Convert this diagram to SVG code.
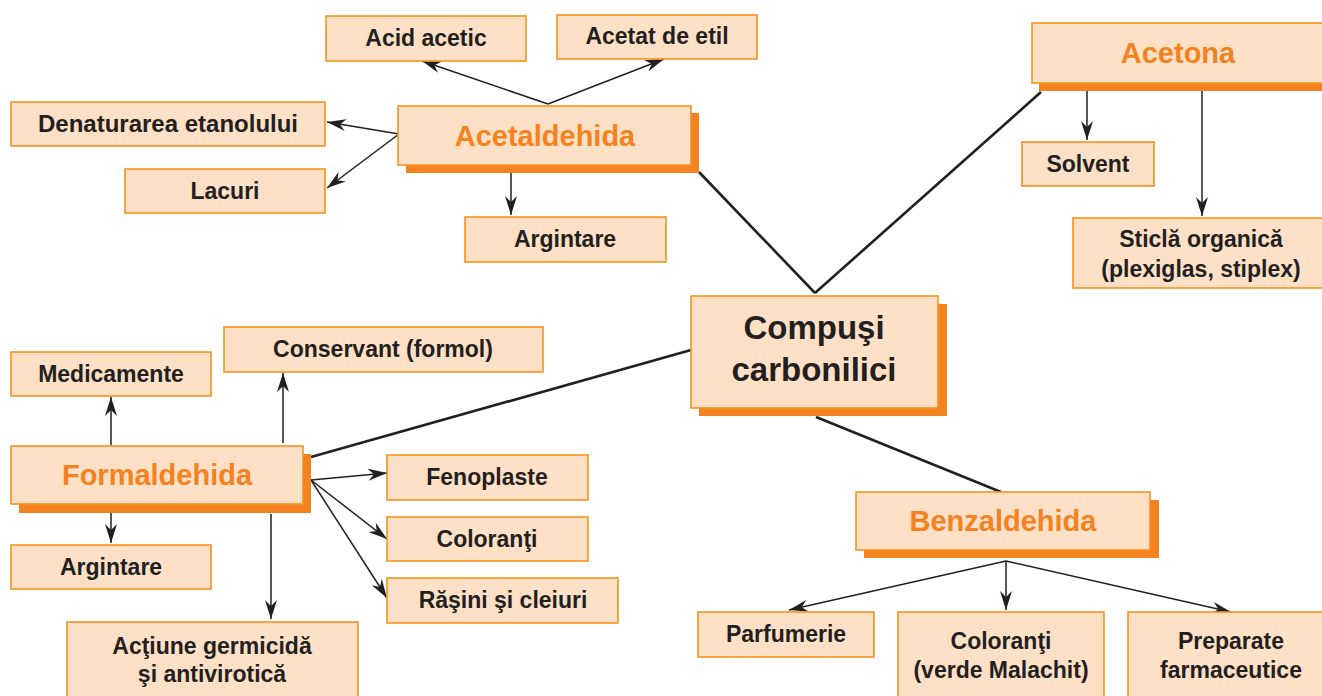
<svg xmlns="http://www.w3.org/2000/svg" width="1322" height="696" viewBox="0 0 1322 696">
<defs>
<style>
.box{fill:#FDE0C6;stroke:#F7941D;stroke-width:1.6}
.sh{fill:#F58220}
.t{font-family:"Liberation Sans",Arial,sans-serif;font-weight:bold;font-size:23px;fill:#231F20;text-anchor:middle}
.h{font-family:"Liberation Sans",Arial,sans-serif;font-weight:bold;font-size:29px;fill:#F58220;text-anchor:middle}
.c{font-family:"Liberation Sans",Arial,sans-serif;font-weight:bold;font-size:33px;fill:#231F20;text-anchor:middle}
.a{stroke:#231F20;stroke-width:1.5;fill:none;marker-end:url(#ah)}
.l{stroke:#231F20;stroke-width:2.6;fill:none}
</style>
<marker id="ah" viewBox="0 0 19 12" markerUnits="userSpaceOnUse" markerWidth="19" markerHeight="12" refX="19" refY="6" orient="auto">
<path d="M0,0 L19,6 L0,12 L6,6 z" fill="#231F20"/>
</marker>
</defs>
<rect width="1322" height="696" fill="#ffffff"/>

<g id="connectors">
<line class="l" x1="699" y1="172" x2="815" y2="293"/>
<line class="l" x1="1041" y1="92" x2="815" y2="293"/>
<line class="l" x1="691" y1="350" x2="311" y2="457"/>
<line class="l" x1="816" y1="417" x2="1001" y2="492"/>
<line class="a" x1="548" y1="104" x2="422" y2="61"/>
<line class="a" x1="548" y1="104" x2="664" y2="59"/>
<line class="a" x1="399" y1="134" x2="327" y2="122"/>
<line class="a" x1="399" y1="134" x2="327" y2="188"/>
<line class="a" x1="511" y1="173" x2="511" y2="215"/>
<line class="a" x1="1087" y1="91" x2="1087" y2="140"/>
<line class="a" x1="1202" y1="91" x2="1202" y2="216"/>
<line class="a" x1="111" y1="445" x2="111" y2="397"/>
<line class="a" x1="283" y1="443" x2="283" y2="373"/>
<line class="a" x1="111" y1="513" x2="111" y2="543"/>
<line class="a" x1="271" y1="514" x2="271" y2="619"/>
<line class="a" x1="311" y1="480" x2="387" y2="473"/>
<line class="a" x1="311" y1="480" x2="387" y2="539"/>
<line class="a" x1="311" y1="480" x2="387" y2="598"/>
<line class="a" x1="1006" y1="561" x2="789" y2="610"/>
<line class="a" x1="1006" y1="561" x2="1006" y2="610"/>
<line class="a" x1="1006" y1="561" x2="1231" y2="612"/>
</g>

<g id="acid-acetic">
<rect class="box" x="326" y="16" width="200" height="45"/>
<text class="t" x="426" y="46">Acid acetic</text>
</g>
<g id="acetat-de-etil">
<rect class="box" x="557" y="15" width="200" height="44"/>
<text class="t" x="657" y="44">Acetat de etil</text>
</g>
<g id="acetaldehida">
<rect class="sh" x="406" y="113" width="293" height="60"/>
<rect class="box" x="398" y="106" width="293" height="59"/>
<text class="h" x="545" y="146">Acetaldehida</text>
</g>
<g id="denaturarea">
<rect class="box" x="11" y="102" width="314" height="44"/>
<text class="t" x="168" y="132" style="font-size:24px">Denaturarea etanolului</text>
</g>
<g id="lacuri">
<rect class="box" x="125" y="169" width="200" height="44"/>
<text class="t" x="225" y="199">Lacuri</text>
</g>
<g id="argintare-1">
<rect class="box" x="465" y="217" width="201" height="45"/>
<text class="t" x="565" y="247">Argintare</text>
</g>
<g id="acetona">
<rect class="sh" x="1039" y="30" width="300" height="61"/>
<rect class="box" x="1032" y="23" width="300" height="60"/>
<text class="h" x="1178" y="63">Acetona</text>
</g>
<g id="solvent">
<rect class="box" x="1022" y="142" width="132" height="44"/>
<text class="t" x="1088" y="172">Solvent</text>
</g>
<g id="sticla">
<rect class="box" x="1073" y="218" width="260" height="70"/>
<text class="t" x="1201" y="247">Sticlă organică</text>
<text class="t" x="1201" y="277">(plexiglas, stiplex)</text>
</g>
<g id="compusi">
<rect class="sh" x="699" y="304" width="248" height="112"/>
<rect class="box" x="691" y="296" width="247" height="112"/>
<text class="c" x="814" y="339">Compuşi</text>
<text class="c" x="814" y="381">carbonilici</text>
</g>
<g id="conservant">
<rect class="box" x="224" y="327" width="319" height="45"/>
<text class="t" x="383" y="357">Conservant (formol)</text>
</g>
<g id="medicamente">
<rect class="box" x="11" y="352" width="200" height="44"/>
<text class="t" x="111" y="382">Medicamente</text>
</g>
<g id="formaldehida">
<rect class="sh" x="19" y="454" width="292" height="59"/>
<rect class="box" x="11" y="446" width="292" height="58"/>
<text class="h" x="157" y="485">Formaldehida</text>
</g>
<g id="argintare-2">
<rect class="box" x="11" y="545" width="200" height="44"/>
<text class="t" x="111" y="575">Argintare</text>
</g>
<g id="fenoplaste">
<rect class="box" x="387" y="455" width="201" height="45"/>
<text class="t" x="487" y="485">Fenoplaste</text>
</g>
<g id="coloranti-1">
<rect class="box" x="387" y="517" width="201" height="44"/>
<text class="t" x="487" y="547">Coloranţi</text>
</g>
<g id="rasini">
<rect class="box" x="387" y="578" width="231" height="45"/>
<text class="t" x="503" y="608">Răşini şi cleiuri</text>
</g>
<g id="actiune">
<rect class="box" x="67" y="622" width="291" height="80"/>
<text class="t" x="212" y="654">Acţiune germicidă</text>
<text class="t" x="212" y="682">şi antivirotică</text>
</g>
<g id="benzaldehida">
<rect class="sh" x="864" y="500" width="295" height="58"/>
<rect class="box" x="856" y="492" width="294" height="58"/>
<text class="h" x="1003" y="531">Benzaldehida</text>
</g>
<g id="parfumerie">
<rect class="box" x="698" y="612" width="176" height="45"/>
<text class="t" x="786" y="642">Parfumerie</text>
</g>
<g id="coloranti-2">
<rect class="box" x="898" y="612" width="206" height="90"/>
<text class="t" x="1001" y="649">Coloranţi</text>
<text class="t" x="1001" y="678">(verde Malachit)</text>
</g>
<g id="preparate">
<rect class="box" x="1128" y="612" width="205" height="90"/>
<text class="t" x="1231" y="649">Preparate</text>
<text class="t" x="1231" y="678">farmaceutice</text>
</g>
</svg>
